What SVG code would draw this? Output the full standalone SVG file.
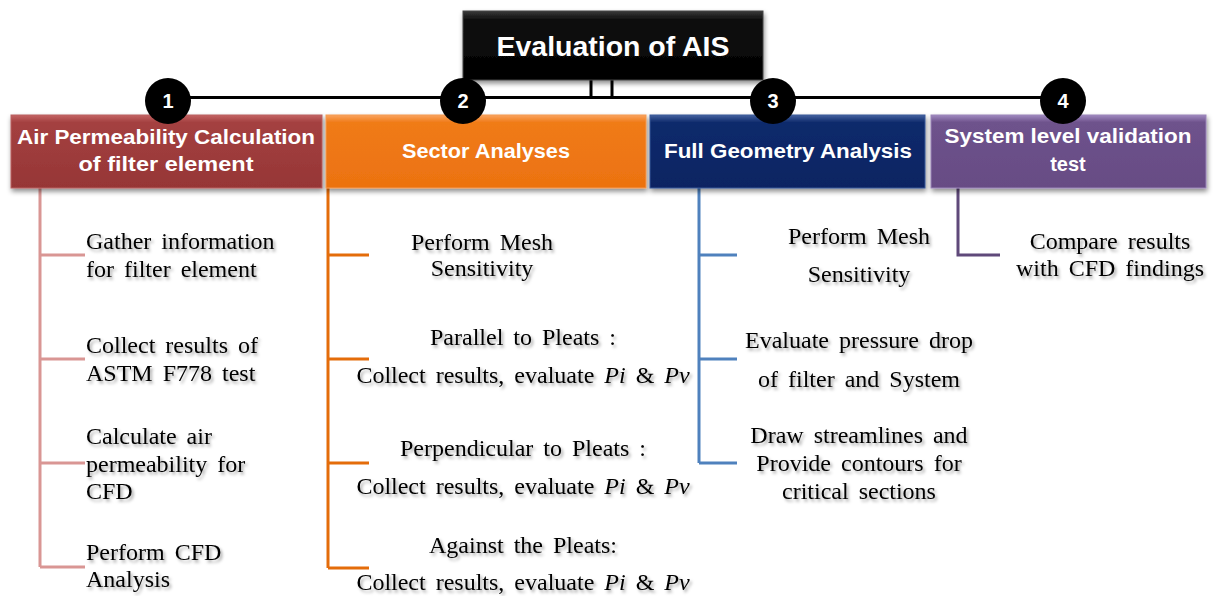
<svg xmlns="http://www.w3.org/2000/svg" width="1221" height="596" viewBox="0 0 1221 596">
<style>
.hdr{font-family:"Liberation Sans",Arial,sans-serif;font-weight:bold;fill:#fff;text-anchor:middle}
.num{font-family:"Liberation Sans",Arial,sans-serif;font-weight:bold;fill:#fff;font-size:20px;text-anchor:middle}
.bt{font-family:"Liberation Serif","Times New Roman",serif;font-size:24px;fill:#000;word-spacing:4px;filter:url(#tsh)}
.c{text-anchor:middle}
.l1{stroke:#D99694;stroke-width:3;fill:none}
.l2{stroke:#E46C0A;stroke-width:3;fill:none}
.l3{stroke:#4F81BD;stroke-width:3;fill:none}
.l4{stroke:#5F497A;stroke-width:3;fill:none}
.blk{stroke:#000;stroke-width:3;fill:none}
</style>
<defs>
<filter id="tsh" x="-10%" y="-30%" width="120%" height="160%">
<feDropShadow dx="2" dy="2.5" stdDeviation="1.5" flood-color="#000" flood-opacity="0.35"/>
</filter>
<filter id="bsh" x="-5%" y="-10%" width="110%" height="130%">
<feDropShadow dx="1" dy="3" stdDeviation="2.5" flood-color="#000" flood-opacity="0.45"/>
</filter>
<linearGradient id="g0" x1="0" y1="0" x2="0" y2="1"><stop offset="0" stop-color="#3a3a3a"/><stop offset="0.12" stop-color="#111"/><stop offset="1" stop-color="#000"/></linearGradient>
<linearGradient id="g1" x1="0" y1="0" x2="0" y2="1"><stop offset="0" stop-color="#C46464"/><stop offset="0.1" stop-color="#A44040"/><stop offset="1" stop-color="#963636"/></linearGradient>
<linearGradient id="g2" x1="0" y1="0" x2="0" y2="1"><stop offset="0" stop-color="#FAA460"/><stop offset="0.1" stop-color="#F07B18"/><stop offset="1" stop-color="#EC7210"/></linearGradient>
<linearGradient id="g3" x1="0" y1="0" x2="0" y2="1"><stop offset="0" stop-color="#4563A0"/><stop offset="0.1" stop-color="#0F2A6C"/><stop offset="1" stop-color="#0A2462"/></linearGradient>
<linearGradient id="g4" x1="0" y1="0" x2="0" y2="1"><stop offset="0" stop-color="#A08AC0"/><stop offset="0.1" stop-color="#6E528C"/><stop offset="1" stop-color="#674C84"/></linearGradient>
</defs>
<rect width="1221" height="596" fill="#fff"/>

<g id="connectors">
<path class="blk" d="M591 80V97M612 80V97M168 97.5H1063"/>
<path class="l1" d="M40 188V567M40 255H85M40 359H85M40 463H85M40 567H85"/>
<path class="l2" d="M328 188V568M328 255H369M328 359H369M328 463H369M328 568H369"/>
<path class="l3" d="M699 188V463M699 255H737M699 359H737M699 463H737"/>
<path class="l4" d="M958 188V255H1000"/>
</g>

<g id="title">
<rect x="463" y="11" width="300" height="69" fill="url(#g0)" stroke="#444" stroke-width="1" filter="url(#bsh)"/>
<text class="hdr" x="613" y="56" font-size="28" textLength="233" lengthAdjust="spacingAndGlyphs">Evaluation of AIS</text>
</g>

<g id="node1">
<rect x="11" y="115" width="311" height="73" fill="url(#g1)" stroke="#B86060" stroke-width="1" filter="url(#bsh)"/>
<text class="hdr" x="166" y="144" font-size="20" textLength="298" lengthAdjust="spacingAndGlyphs">Air Permeability Calculation</text>
<text class="hdr" x="166" y="171" font-size="20" textLength="175" lengthAdjust="spacingAndGlyphs">of filter element</text>
<circle cx="168" cy="101" r="23" fill="#000"/>
<text class="num" x="168" y="108">1</text>
</g>

<g id="node2">
<rect x="326" y="115" width="320" height="73" fill="url(#g2)" stroke="#F49A50" stroke-width="1" filter="url(#bsh)"/>
<text class="hdr" x="486" y="158" font-size="20" textLength="168" lengthAdjust="spacingAndGlyphs">Sector Analyses</text>
<circle cx="463" cy="101" r="23" fill="#000"/>
<text class="num" x="463" y="108">2</text>
</g>

<g id="node3">
<rect x="650" y="115" width="275" height="73" fill="url(#g3)" stroke="#3A5898" stroke-width="1" filter="url(#bsh)"/>
<text class="hdr" x="788" y="158" font-size="20" textLength="248" lengthAdjust="spacingAndGlyphs">Full Geometry Analysis</text>
<circle cx="773" cy="101" r="23" fill="#000"/>
<text class="num" x="773" y="108">3</text>
</g>

<g id="node4">
<rect x="931" y="115" width="275" height="73" fill="url(#g4)" stroke="#9A84B8" stroke-width="1" filter="url(#bsh)"/>
<text class="hdr" x="1068" y="143" font-size="20" textLength="247" lengthAdjust="spacingAndGlyphs">System level validation</text>
<text class="hdr" x="1068" y="171" font-size="20">test</text>
<circle cx="1063" cy="101" r="23" fill="#000"/>
<text class="num" x="1063" y="108">4</text>
</g>

<g id="items1">
<text class="bt" x="86" y="249">Gather information</text>
<text class="bt" x="86" y="277">for filter element</text>
<text class="bt" x="86" y="353">Collect results of</text>
<text class="bt" x="86" y="381">ASTM F778 test</text>
<text class="bt" x="86" y="444">Calculate air</text>
<text class="bt" x="86" y="472">permeability for</text>
<text class="bt" x="86" y="499">CFD</text>
<text class="bt" x="86" y="560">Perform CFD</text>
<text class="bt" x="86" y="587">Analysis</text>
</g>

<g id="items2">
<text class="bt c" x="482" y="250">Perform Mesh</text>
<text class="bt c" x="482" y="276">Sensitivity</text>
<text class="bt c" x="523" y="345">Parallel to Pleats :</text>
<text class="bt c" x="523" y="383">Collect results, evaluate <tspan font-style="italic">Pi</tspan> &amp; <tspan font-style="italic">Pv</tspan></text>
<text class="bt c" x="523" y="456">Perpendicular to Pleats :</text>
<text class="bt c" x="523" y="494">Collect results, evaluate <tspan font-style="italic">Pi</tspan> &amp; <tspan font-style="italic">Pv</tspan></text>
<text class="bt c" x="523" y="553">Against the Pleats:</text>
<text class="bt c" x="523" y="590">Collect results, evaluate <tspan font-style="italic">Pi</tspan> &amp; <tspan font-style="italic">Pv</tspan></text>
</g>

<g id="items3">
<text class="bt c" x="859" y="244">Perform Mesh</text>
<text class="bt c" x="859" y="282">Sensitivity</text>
<text class="bt c" x="859" y="348">Evaluate pressure drop</text>
<text class="bt c" x="859" y="387">of filter and System</text>
<text class="bt c" x="859" y="443">Draw streamlines  and</text>
<text class="bt c" x="859" y="471">Provide contours for</text>
<text class="bt c" x="859" y="499">critical sections</text>
</g>

<g id="items4">
<text class="bt c" x="1110" y="249">Compare results</text>
<text class="bt c" x="1110" y="276">with CFD findings</text>
</g>
</svg>
